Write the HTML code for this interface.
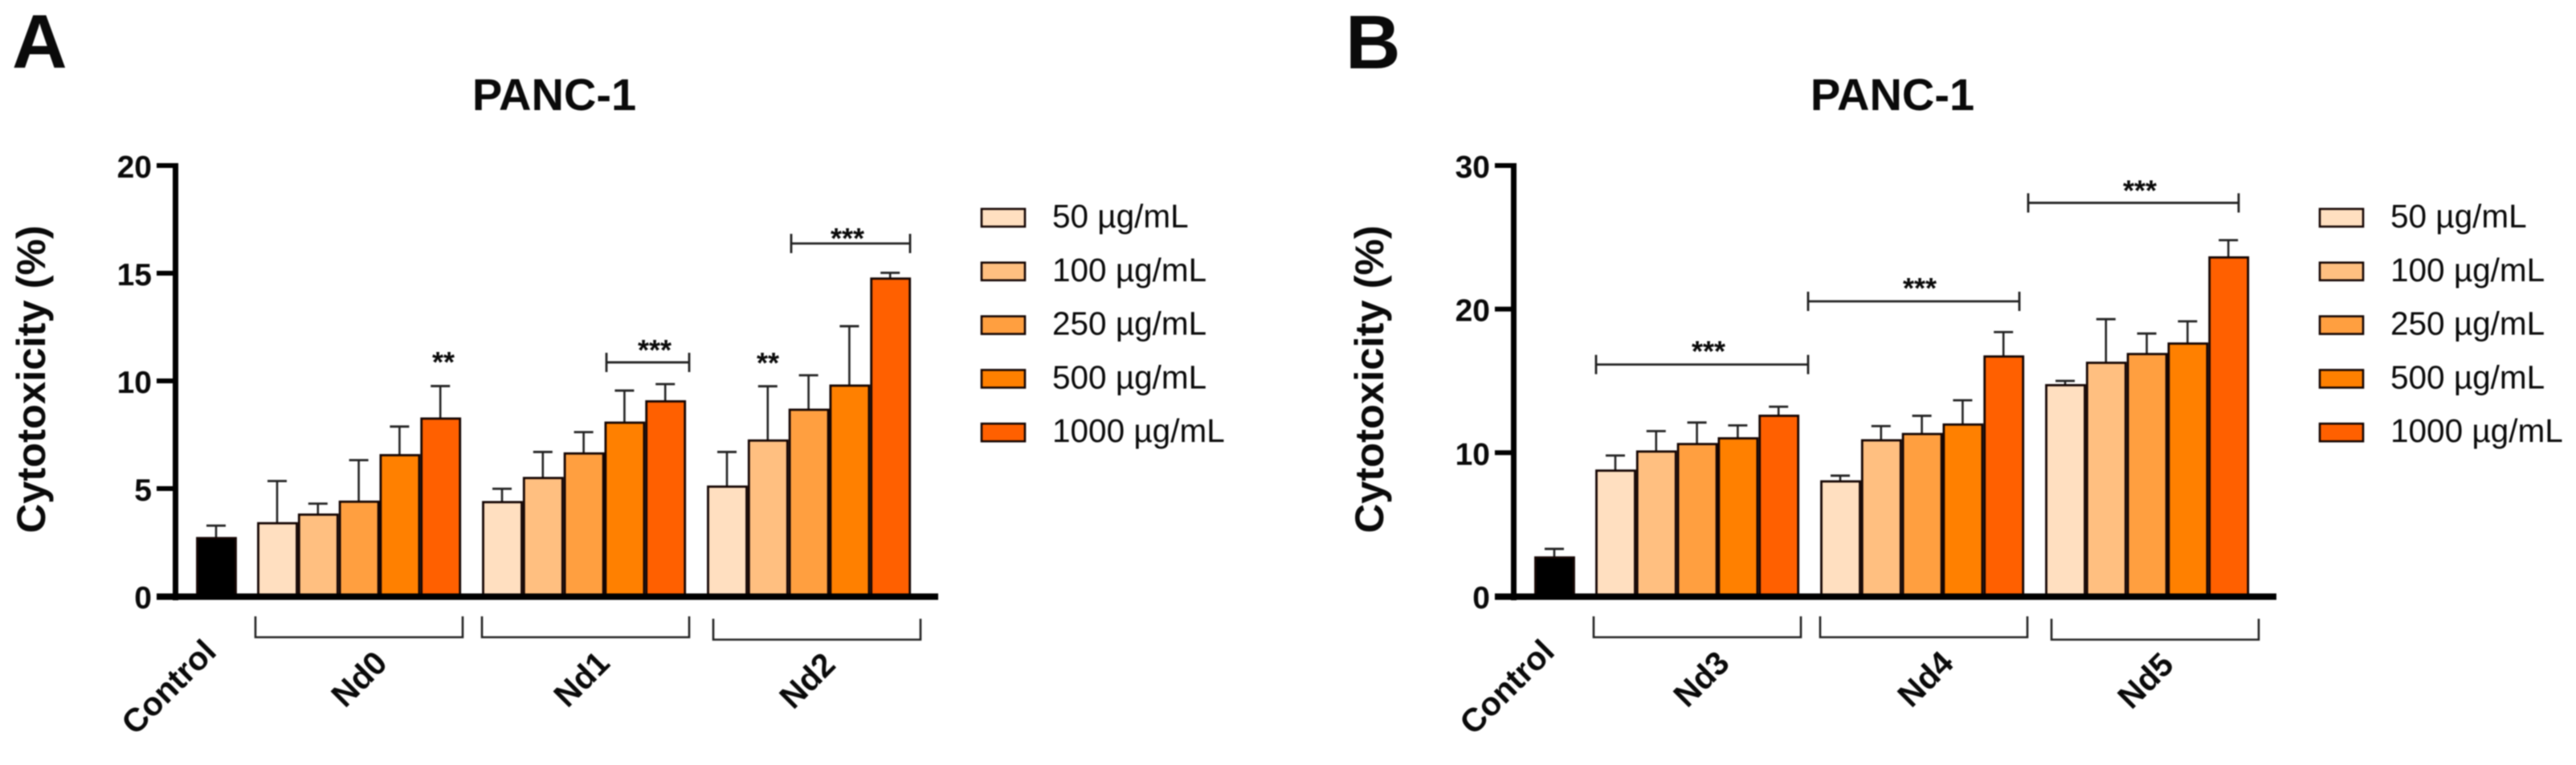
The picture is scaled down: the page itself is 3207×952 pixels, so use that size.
<!DOCTYPE html>
<html lang="en">
<head>
<meta charset="utf-8">
<title>PANC-1 Cytotoxicity</title>
<style>
html,body{margin:0;padding:0;background:#fff;width:3207px;height:952px;overflow:hidden}
svg{display:block;filter:blur(.7px)}
text{font-family:"Liberation Sans",Arial,sans-serif;fill:#0a0a0a}
</style>
</head>
<body>
<svg id="figure" xmlns="http://www.w3.org/2000/svg" width="3207" height="952" viewBox="0 0 3207 952">
  <rect x="0" y="0" width="3207" height="952" fill="#ffffff"/>
  <text x="15" y="84" font-size="95" font-weight="700">A</text>
  <text x="1675" y="85" font-size="95" font-weight="700">B</text>
  <text x="690" y="137" font-size="56" font-weight="700" text-anchor="middle">PANC-1</text>
  <text x="2356" y="137" font-size="56" font-weight="700" text-anchor="middle">PANC-1</text>
</svg>
<script>
// ---- Data: panel A ----
const ticksA = [0, 5, 10, 15, 20];
const maxA = 20;
const groupsA = ["Nd0", "Nd1", "Nd2"];
const controlMeanA = 2.7;
const controlErrA = 0.58;
const nd0Mean = [3.39, 3.79, 4.39, 6.55, 8.25];
const nd0Err = [1.96, 0.51, 1.93, 1.33, 1.51];
const nd1Mean = [4.37, 5.49, 6.63, 8.06, 9.05];
const nd1Err = [0.62, 1.21, 0.99, 1.49, 0.80];
const nd2Mean = [5.09, 7.23, 8.66, 9.78, 14.75];
const nd2Err = [1.61, 2.52, 1.60, 2.76, 0.27];

// ---- Data: panel B ----
const ticksB = [0, 10, 20, 30];
const maxB = 30;
const groupsB = ["Nd3", "Nd4", "Nd5"];
const controlMeanB = 2.7;
const controlErrB = 0.6;
const nd3Mean = [8.75, 10.08, 10.6, 11.0, 12.57];
const nd3Err = [1.05, 1.42, 1.5, 0.9, 0.63];
const nd4Mean = [8.0, 10.86, 11.3, 11.96, 16.7];
const nd4Err = [0.4, 0.99, 1.27, 1.69, 1.7];
const nd5Mean = [14.7, 16.26, 16.87, 17.6, 23.6];
const nd5Err = [0.3, 3.04, 1.43, 1.55, 1.2];

// ---- Shared categories ----
const concentrations = ["50 µg/mL", "100 µg/mL", "250 µg/mL", "500 µg/mL", "1000 µg/mL"];
const controlLabel = "Control";
const yAxisLabel = "Cytotoxicity (%)";

// ---- Styling and layout (not data) ----
const NS = "http://www.w3.org/2000/svg";
const svg = document.getElementById("figure");
const swatchFills = ["#FFDFC0", "#FFBF80", "#FF9F40", "#FF8000", "#FF6000"];
const INK = "#140503";
const Y0 = 742, YTOP = 206;

function el(tag, attrs, parent) {
  const e = document.createElementNS(NS, tag);
  for (const k in attrs) e.setAttribute(k, attrs[k]);
  parent.appendChild(e);
  return e;
}

function drawPanel(id, offset, ticks, yMax, groups, ctrlMean, ctrlErr, means, errs, labelX) {
  const g = el("g", { transform: "translate(" + offset + ",0)" }, svg);
  
  

  const yScale = v => Y0 - (v / yMax) * (Y0 - YTOP);
  const barPitch = 50.8;
  const groupX = i => 320 + i * 280;
  const barX = (gi, bi) => groupX(gi) + bi * barPitch;

  function drawBar(x, value, err, fill, name) {
    const top = yScale(value), capY = yScale(value + err), cx = x + 25;
    const stem = el("line", { x1: cx, x2: cx, y1: top, y2: capY, stroke: "#222", "stroke-width": 2.6 }, g);
    
    
    const cap = el("line", { x1: cx - 12, x2: cx + 12, y1: capY, y2: capY, stroke: "#222", "stroke-width": 2.8 }, g);
    
    
    const r = el("rect", { x: x + 1.5, y: top, width: 48, height: Y0 - top, fill: fill, stroke: INK, "stroke-width": 2.8 }, g);
    
    
  }

  // bars
  drawBar(244, ctrlMean, ctrlErr, "#000000", "control");
  groups.forEach((gn, gi) => {
    means[gi].forEach((v, bi) => {
      drawBar(barX(gi, bi), v, errs[gi][bi], swatchFills[bi], gn.toLowerCase() + "-" + bi);
    });
  });

  // axes
  const yAxis = el("rect", { x: 215, y: 203, width: 7, height: 544, fill: "#000" }, g);
  
  
  const xAxis = el("rect", { x: 195, y: 738.5, width: 973, height: 8, fill: "#000" }, g);
  
  

  ticks.forEach(t => {
    const y = yScale(t);
    const tk = el("rect", { x: 195, y: y - 3, width: 22, height: 6, fill: "#000" }, g);
    
    
    const lb = el("text", { x: 189, y: y + 15, "font-size": 39, "font-weight": 700, "text-anchor": "end" }, g);
    lb.textContent = t;
    
    
  });

  const yt = el("text", { transform: "translate(56,472) rotate(-90)", "font-size": 50, "font-weight": 700, "text-anchor": "middle", textLength: 383, lengthAdjust: "spacingAndGlyphs" }, g);
  yt.textContent = yAxisLabel;
  
  

  // x labels
  const cl = el("text", { transform: "translate(210,855) rotate(-45)", "font-size": 41, "font-weight": 700, "text-anchor": "middle", "dominant-baseline": "central" }, g);
  cl.textContent = controlLabel;
  
  

  const bracketLeft = [318, 600, 888];
  groups.forEach((gn, gi) => {
    const left = bracketLeft[gi];
    const right = left + 258;
    const top = gi === 2 ? 770 : 767, bot = gi === 2 ? 796 : 793;
    const br = el("path", { d: "M" + left + " " + top + "V" + bot + "H" + right + "V" + top, fill: "none", stroke: "#222", "stroke-width": 2.6 }, g);
    
    
    const t = el("text", { transform: "translate(" + labelX[gi] + "," + (gi === 2 ? 847 : 845) + ") rotate(-45)", "font-size": 41, "font-weight": 700, "text-anchor": "middle", "dominant-baseline": "central" }, g);
    t.textContent = gn;
    
    
  });

  // legend
  concentrations.forEach((c, i) => {
    const y = 260 + i * 66.8;
    const s = el("rect", { x: 1222, y: y, width: 54, height: 22, fill: swatchFills[i], stroke: INK, "stroke-width": 2.6 }, g);
    
    
    const tx = el("text", { x: 1310, y: y + 23, "font-size": 40.5 }, g);
    tx.textContent = c;
    
    
  });

  return { g, yScale };
}

function sigBracket(panel, x1, x2, level, starX, gap, label) {
  const y = panel.yScale(level);
  const p = el("path", { d: "M" + x1 + " " + (y - 12) + "V" + (y + 12) + "M" + x1 + " " + y + "H" + x2 + "M" + x2 + " " + (y - 12) + "V" + (y + 12), fill: "none", stroke: "#222", "stroke-width": 2.8 }, panel.g);
  
  
  sigStars(panel, starX, y - gap, label);
}

function sigStars(panel, x, centerY, label) {
  const t = el("text", { x: x, y: centerY + 21, "font-size": 36, "font-weight": 700, "text-anchor": "middle" }, panel.g);
  t.textContent = label;
  
  
}

const panelA = drawPanel("a", 0, ticksA, maxA, groupsA, controlMeanA, controlErrA, [nd0Mean, nd1Mean, nd2Mean], [nd0Err, nd1Err, nd2Err], [447, 724, 1005]);
const panelB = drawPanel("b", 1666, ticksB, maxB, groupsB, controlMeanB, controlErrB, [nd3Mean, nd4Mean, nd5Mean], [nd3Err, nd4Err, nd5Err], [452, 731, 1005]);

sigBracket(panelA, 755, 858, 10.86, 815, 24, "***");
sigBracket(panelA, 985, 1133, 16.38, 1055, 15, "***");
sigStars(panelA, 552, panelA.yScale(11.2), "**");
sigStars(panelA, 956, panelA.yScale(11.15), "**");

sigBracket(panelB, 321, 585, 16.14, 461, 25, "***");
sigBracket(panelB, 585, 848, 20.54, 724, 25, "***");
sigBracket(panelB, 859, 1121, 27.4, 998, 24, "***");
</script>
</body>
</html>
